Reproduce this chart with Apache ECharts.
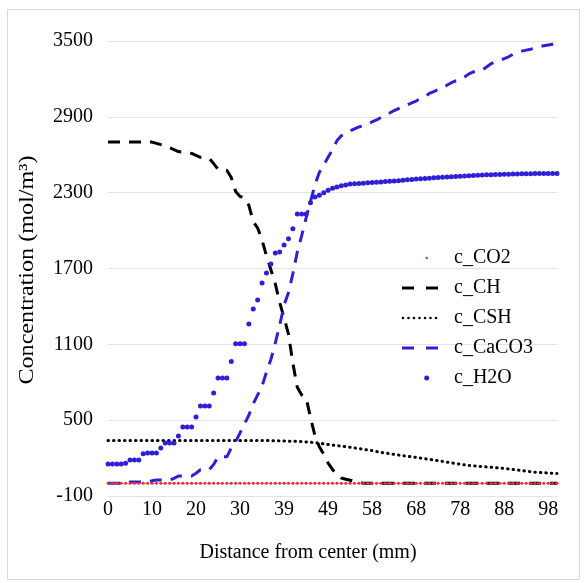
<!DOCTYPE html>
<html>
<head>
<meta charset="utf-8">
<script src="https://cdn.jsdelivr.net/npm/echarts@6/dist/echarts.min.js"></script>
<style>html,body{margin:0;padding:0;background:#fff;}#c{width:584px;height:583px;}</style>
</head>
<body>
<div id="c"></div>
<script>
// x tick labels shown every 10 samples (distance from center, mm)
const xTickLabels = ['0','10','20','30','39','49','58','68','78','88','98'];
// sample index 0..102 along the radius
const sampleCount = 103;
const categories = Array.from({length: sampleCount}, (_, i) => String(i));

const cCO2 = [0,0,0,0,0,0,0,0,0,0,0,0,0,0,0,0,0,0,0,0,0,0,0,0,0,0,0,0,0,0,0,0,0,0,0,0,0,0,0,0,0,0,0,0,0,0,0,0,0,0,0,0,0,0,0,0,0,0,0,0,0,0,0,0,0,0,0,0,0,0,0,0,0,0,0,0,0,0,0,0,0,0,0,0,0,0,0,0,0,0,0,0,0,0,0,0,0,0,0,0,0,0,0];

const cCH = [2700,2700,2700,2700,2700,2700,2700,2700,2700,2700,2700,
  2690,2680,2670,2655,2640,2625,2620,2615,2610,2595,2580,2575,2570,2530,2485,2480,2478,2420,2310,
  2270,2260,2200,2070,2020,1925,1800,1690,1580,1430,1310,1180,950,760,700,680,520,380,290,230,
  160,110,70,42,32,25,15,8,
  0,0,0,0,0,0,0,0,0,0,0,0,0,0,0,0,0,0,0,0,0,0,0,0,0,0,0,0,0,0,0,0,0,0,0,0,0,0,0,0,0,0,0,0,0];

const cCSH = [340,340,340,340,340,340,340,340,340,340,340,340,340,340,340,340,340,340,340,340,
  340,340,340,340,340,340,340,340,340,340,340,340,340,340,340,340,
  339,338,337,336,335,334,333,332,330,328,325,322,318,313,308,303,299,294,290,285,
  280,275,270,264,259,252,245,240,235,229,224,219,214,210,205,200,195,190,185,180,
  174,168,162,157,152,147,142,139,136,133,130,127,124,122,118,114,110,106,101,97,
  92,88,86,84,82,80,78];

const cCaCO3 = [0,0,0,0,5,10,10,10,10,15,20,27,27,27,27,40,58,58,58,58,
  80,108,108,108,150,210,210,210,280,330,400,470,540,630,700,770,880,980,1110,1250,
  1410,1510,1660,1830,1960,2100,2230,2360,2460,2520,2580,2640,2710,2750,2770,2790,2805,2820,2830,2845,
  2860,2875,2895,2910,2930,2950,2965,2980,2995,3010,3025,3045,3060,3085,3100,3115,3130,3150,3170,3185,
  3195,3215,3240,3255,3265,3270,3295,3320,3335,3345,3360,3375,3395,3410,3420,3428,3435,3445,3455,3462,
  3468,3474,3480];

const cH2O = [153,153,153,153,160,185,185,185,235,240,240,240,280,320,320,320,375,446,446,446,
  525,612,612,612,715,834,834,834,965,1105,1105,1105,1261,1380,1450,1585,1664,1736,1823,1830,
  1886,1935,2015,2131,2131,2131,2220,2266,2280,2300,2320,2335,2345,2355,2360,2368,2370,2372,2375,2378,
  2380,2383,2385,2388,2390,2392,2395,2398,2402,2405,2408,2410,2412,2415,2418,2420,2422,2424,2426,2428,
  2430,2432,2434,2436,2438,2440,2441,2442,2443,2444,2445,2446,2447,2448,2449,2450,2450,2451,2451,2452,
  2452,2452,2452];

const BLUE = '#2f1fd6';
const RED = '#e0303a';
const FONT = '"Liberation Serif", "Times New Roman", serif';

// legend glyphs (box 52 x 14)
const BOX = 'M0,0 M52,14 ';
const dot = (cx, r) => `M${cx - r},7 a${r},${r} 0 1,0 ${2 * r},0 a${r},${r} 0 1,0 ${-2 * r},0 `;
const iconDash = 'path://' + BOX + 'M5,5.5 h12 v3 h-12 z M29,5.5 h12 v3 h-12 z';
let dots = '';
for (let k = 0; k < 7; k++) dots += dot(6 + k * 5.5, 1.3);
const iconDotted = 'path://' + BOX + dots;
const iconSmallDot = 'path://' + BOX + dot(29.7, 1.2);
const iconBigDot = 'path://' + BOX + dot(29.7, 2.5);

const chart = echarts.init(document.getElementById('c'), null, {renderer: 'canvas'});
chart.setOption({
  animation: false,
  backgroundColor: '#fff',
  graphic: [{
    type: 'rect', left: 5, top: 7, shape: {width: 572, height: 570},
    style: {fill: 'none', stroke: '#d9d9d9', lineWidth: 1}, silent: true
  }, {
    type: 'text', x: 27, y: 270, rotation: Math.PI / 2, scaleX: 1.15, silent: true,
    style: {text: 'Concentration (mol/m³)', font: '21px "Liberation Serif", serif', fill: '#000',
            align: 'center', verticalAlign: 'middle'}
  }],
  grid: {left: 108, right: 27, top: 41, bottom: 87, containLabel: false},
  legend: {
    orient: 'vertical', left: 397, top: 248, padding: 0,
    itemWidth: 52, itemHeight: 14, itemGap: 10,
    textStyle: {fontFamily: FONT, fontSize: 20, color: '#000'},
    data: [
      {name: 'c_CO2', icon: iconSmallDot, itemStyle: {borderWidth: 0}},
      {name: 'c_CH', icon: iconDash, itemStyle: {borderWidth: 0}},
      {name: 'c_CSH', icon: iconDotted, itemStyle: {borderWidth: 0}},
      {name: 'c_CaCO3', icon: iconDash, itemStyle: {borderWidth: 0}},
      {name: 'c_H2O', icon: iconBigDot, itemStyle: {borderWidth: 0}}
    ]
  },
  xAxis: {
    type: 'category', data: categories, boundaryGap: false,
    name: 'Distance from center (mm)', nameLocation: 'middle', nameGap: 46.5,
    nameTextStyle: {fontFamily: FONT, fontSize: 20, color: '#000', padding: [0, 49, 0, 0]},
    axisLine: {show: false}, axisTick: {show: false}, splitLine: {show: false},
    axisLabel: {
      interval: 9, margin: 4, fontFamily: FONT, fontSize: 20, color: '#000',
      formatter: (v, idx) => (idx % 10 === 0 && xTickLabels[idx / 10] !== undefined) ? xTickLabels[idx / 10] : ''
    }
  },
  yAxis: {
    type: 'value', min: -100, max: 3500, interval: 600,
    axisLine: {show: false}, axisTick: {show: false},
    splitLine: {show: true, lineStyle: {color: '#e3e3e3', width: 1}},
    axisLabel: {margin: 15, fontFamily: FONT, fontSize: 20, color: '#000', formatter: v => String(v)}
  },
  series: [
    {name: 'c_CO2', type: 'line', data: cCO2, symbol: 'circle', symbolSize: 3, showSymbol: true, showAllSymbol: true,
     itemStyle: {color: RED, borderWidth: 0}, lineStyle: {width: 1, color: '#ee7070', type: [2, 1]}, z: 5},
    {name: 'c_CH', type: 'line', data: cCH, symbol: 'none',
     itemStyle: {color: '#000'}, lineStyle: {width: 3, color: '#000', type: [12, 9]}, z: 3},
    {name: 'c_CSH', type: 'line', data: cCSH, symbol: 'none',
     itemStyle: {color: '#000'}, lineStyle: {width: 3, color: '#000', type: [0.5, 5], cap: 'round'}, z: 3},
    {name: 'c_CaCO3', type: 'line', data: cCaCO3, symbol: 'none',
     itemStyle: {color: BLUE}, lineStyle: {width: 3, color: BLUE, type: [12, 9]}, z: 3},
    {name: 'c_H2O', type: 'line', data: cH2O, symbol: 'circle', symbolSize: 5, showSymbol: true, showAllSymbol: true,
     itemStyle: {color: BLUE, borderWidth: 0}, lineStyle: {width: 0}, z: 4}
  ]
});
</script>
</body>
</html>
